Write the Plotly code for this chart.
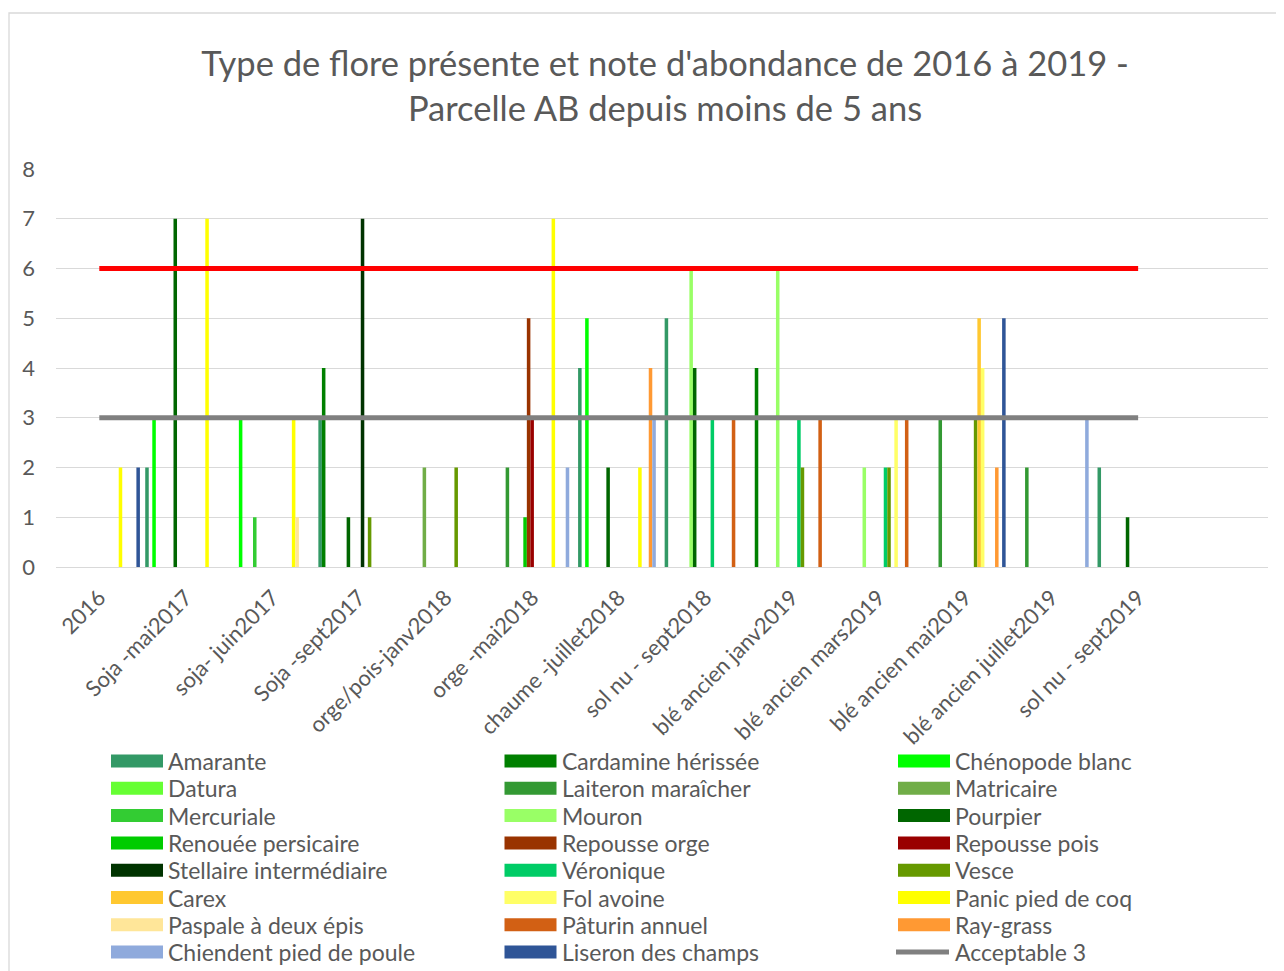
import plotly.graph_objects as go

categories = ["2016", "Soja -mai2017", "soja- juin2017", "Soja -sept2017",
              "orge/pois-janv2018", "orge -mai2018", "chaume -juillet2018",
              "sol nu - sept2018", "blé ancien janv2019", "blé ancien mars2019",
              "blé ancien mai2019", "blé ancien juillet2019", "sol nu - sept2019"]

# abundance notes per species (0 = absent)
amarante        = [0, 2, 0, 3, 0, 0, 4, 5, 0, 0, 0, 0, 2]
cardamine       = [0, 0, 0, 4, 0, 0, 0, 0, 4, 0, 0, 0, 0]
chenopode       = [0, 3, 3, 0, 0, 0, 5, 0, 0, 0, 0, 0, 0]
datura          = [0, 0, 0, 0, 0, 0, 0, 0, 0, 0, 0, 0, 0]
laiteron        = [0, 0, 0, 0, 0, 2, 0, 0, 0, 0, 3, 2, 0]
matricaire      = [0, 0, 0, 0, 2, 0, 0, 0, 0, 0, 0, 0, 0]
mercuriale      = [0, 0, 1, 0, 0, 0, 0, 0, 0, 0, 0, 0, 0]
mouron          = [0, 0, 0, 0, 0, 0, 0, 6, 6, 2, 0, 0, 0]
pourpier        = [0, 7, 0, 1, 0, 0, 2, 4, 0, 0, 0, 0, 1]
renouee         = [0, 0, 0, 0, 0, 1, 0, 0, 0, 0, 0, 0, 0]
repousse_orge   = [0, 0, 0, 0, 0, 5, 0, 0, 0, 0, 0, 0, 0]
repousse_pois   = [0, 0, 0, 0, 0, 3, 0, 0, 0, 0, 0, 0, 0]
stellaire       = [0, 0, 0, 7, 0, 0, 0, 0, 0, 0, 0, 0, 0]
veronique       = [0, 0, 0, 0, 0, 0, 0, 3, 3, 2, 0, 0, 0]
vesce           = [0, 0, 0, 1, 2, 0, 0, 0, 2, 2, 3, 0, 0]
carex           = [0, 0, 0, 0, 0, 0, 0, 0, 0, 0, 5, 0, 0]
fol_avoine      = [0, 0, 0, 0, 0, 0, 0, 0, 0, 3, 4, 0, 0]
panic           = [2, 7, 3, 0, 0, 7, 2, 0, 0, 0, 0, 0, 0]
paspale         = [0, 0, 1, 0, 0, 0, 0, 0, 0, 0, 0, 0, 0]
paturin         = [0, 0, 0, 0, 0, 0, 0, 3, 3, 3, 0, 0, 0]
ray_grass       = [0, 0, 0, 0, 0, 0, 4, 0, 0, 0, 2, 0, 0]
chiendent       = [0, 0, 0, 0, 0, 2, 3, 0, 0, 0, 0, 3, 0]
liseron         = [2, 0, 0, 0, 0, 0, 0, 0, 0, 0, 5, 0, 0]

acceptable_3    = [3, 3, 3, 3, 3, 3, 3, 3, 3, 3, 3, 3, 3]
limite_6        = [6, 6, 6, 6, 6, 6, 6, 6, 6, 6, 6, 6, 6]

species_names = ["Amarante", "Cardamine hérissée", "Chénopode blanc", "Datura",
                 "Laiteron maraîcher", "Matricaire", "Mercuriale", "Mouron",
                 "Pourpier", "Renouée persicaire", "Repousse orge", "Repousse pois",
                 "Stellaire intermédiaire", "Véronique", "Vesce", "Carex",
                 "Fol avoine", "Panic pied de coq", "Paspale à deux épis",
                 "Pâturin annuel", "Ray-grass", "Chiendent pied de poule",
                 "Liseron des champs"]
species_values = [amarante, cardamine, chenopode, datura, laiteron, matricaire,
                  mercuriale, mouron, pourpier, renouee, repousse_orge, repousse_pois,
                  stellaire, veronique, vesce, carex, fol_avoine, panic, paspale,
                  paturin, ray_grass, chiendent, liseron]
species_colors = ["#339966", "#008000", "#00FF00", "#66FF33", "#339933", "#70AD47",
                  "#33CC33", "#99FF66", "#006600", "#00CC00", "#993300", "#990000",
                  "#003300", "#00CC66", "#669900", "#FFC830", "#FFFF66", "#FFFF00",
                  "#FFE699", "#D26014", "#FF9933", "#8FAADC", "#2F5597"]

# page body has an 8px margin: work in page pixels and convert
OFF = 8
W, H = 1284 - OFF, 971 - OFF
PLOT_L, PLOT_R, PLOT_T, PLOT_B = 56, 1268, 169, 567   # in page pixels
L, R = PLOT_L - OFF, W - (PLOT_R - OFF)
T, B = PLOT_T - OFF, H - (PLOT_B - OFF)
PW, PH = PLOT_R - PLOT_L, PLOT_B - PLOT_T
TXT = "#595959"
FONT = "Lato"


def px_x(px):
    return (px - PLOT_L) / PW


def px_y(py):
    return (PLOT_B - py) / PH


fig = go.Figure()
for name, vals, col in zip(species_names, species_values, species_colors):
    fig.add_trace(go.Bar(x=categories, y=vals, name=name,
                         marker=dict(color=col, line=dict(width=0)),
                         showlegend=False))

fig.add_trace(go.Scatter(x=categories, y=acceptable_3, name="Acceptable 3",
                         mode="lines", line=dict(color="#808080", width=5),
                         showlegend=False))
fig.add_trace(go.Scatter(x=categories, y=limite_6, name="Limite 6",
                         mode="lines", line=dict(color="#FF0000", width=5),
                         showlegend=False))

# custom legend (3 columns, Excel style wide swatches)
shapes = []
annotations = []
legend_items = list(zip(species_names, species_colors)) + [("Acceptable 3", "#808080")]
for i, (name, col) in enumerate(legend_items):
    row, c = divmod(i, 3)
    x0 = 111 + 393.5 * c
    yc = 761 + 27.3 * row
    if name == "Acceptable 3":
        shapes.append(dict(type="line", xref="paper", yref="paper",
                           x0=px_x(x0 - 2), x1=px_x(x0 + 51), y0=px_y(yc), y1=px_y(yc),
                           line=dict(color=col, width=5)))
    else:
        shapes.append(dict(type="rect", xref="paper", yref="paper",
                           x0=px_x(x0), x1=px_x(x0 + 52),
                           y0=px_y(yc + 6.5), y1=px_y(yc - 6.5),
                           fillcolor=col, line=dict(width=0)))
    annotations.append(dict(text=name, xref="paper", yref="paper",
                            x=px_x(x0 + 55), y=px_y(yc), xanchor="left", yanchor="middle",
                            showarrow=False, font=dict(family=FONT, size=23, color=TXT)))

# chart area border
shapes.append(dict(type="rect", xref="paper", yref="paper",
                   x0=px_x(9), x1=px_x(1300), y0=px_y(1000), y1=px_y(13),
                   line=dict(color="#D9D9D9", width=1.3), fillcolor="rgba(0,0,0,0)",
                   layer="below"))

fig.update_layout(
    width=W, height=H,
    margin=dict(l=L, r=R, t=T, b=B, pad=0),
    paper_bgcolor="white", plot_bgcolor="white",
    barmode="group", bargap=0.0612, bargroupgap=0,
    title=dict(text="Type de flore présente et note d'abondance de 2016 à 2019 -<br>"
                    "Parcelle AB depuis moins de 5 ans",
               x=(665 - OFF) / W, xref="container", xanchor="center",
               y=1 - (42 + 34 - OFF) / H, yref="container", yanchor="top",
               font=dict(family=FONT, size=34.5, color=TXT)),
    xaxis=dict(type="category", categoryorder="array", categoryarray=categories,
               range=[-0.5, 13.5], tickangle=-45, showgrid=False,
               showline=True, linecolor="#D9D9D9", linewidth=1.3, ticks="",
               ticklabelstandoff=8,
               tickfont=dict(family=FONT, size=22, color=TXT)),
    yaxis=dict(range=[0, 8], dtick=1, showgrid=True, gridcolor="#D9D9D9", gridwidth=1.3,
               zeroline=False, ticks="", ticklabelstandoff=20,
               tickfont=dict(family=FONT, size=22, color=TXT)),
    shapes=shapes, annotations=annotations,
    showlegend=False,
    hovermode=False,
)

fig.write_html("out.html")
